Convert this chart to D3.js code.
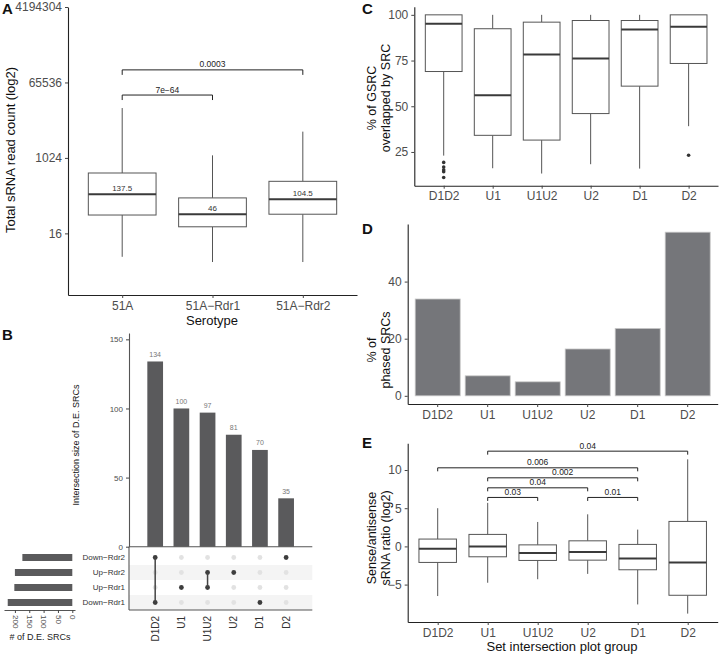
<!DOCTYPE html>
<html><head><meta charset="utf-8">
<script src="https://cdn.jsdelivr.net/npm/d3@7"></script>
<style>body{margin:0;background:#fff}</style>
</head><body><svg id="c" width="720" height="658"></svg>
<script>
// ---------------- DATA ----------------
// Panel A
const serotypes = ["51A", "51A\u2212Rdr1", "51A\u2212Rdr2"];
const aMin = [4.4, 3.3, 3.3];
const aQ1 = [44, 23, 46];
const aMed = [137.5, 46, 104.5];
const aQ3 = [446, 113, 282];
const aMax = [16000, 1180, 4360];
const aMedLabels = ["137.5", "46", "104.5"];
const aTicks = [16, 1024, 65536, 4194304];
const aBrFrom = ["51A", "51A"];
const aBrTo = ["51A\u2212Rdr1", "51A\u2212Rdr2"];
const aBrY = [32768, 131072];
const aBrLabel = ["7e\u221264", "0.0003"];

// Panel B (UpSet)
const intersections = ["D1D2", "U1", "U1U2", "U2", "D1", "D2"];
const interSizes = [134, 100, 97, 81, 70, 35];
const sets = ["Down\u2212Rdr2", "Up\u2212Rdr2", "Up\u2212Rdr1", "Down\u2212Rdr1"];
const setSizes = [174, 200, 202, 225];
const interMembers = [
  ["Down\u2212Rdr2", "Down\u2212Rdr1"],
  ["Up\u2212Rdr1"],
  ["Up\u2212Rdr2", "Up\u2212Rdr1"],
  ["Up\u2212Rdr2"],
  ["Down\u2212Rdr1"],
  ["Down\u2212Rdr2"]
];
const bTicks = [0, 50, 100, 150];
const setTicks = [0, 50, 100, 150, 200];

// Panel C
const groups = ["D1D2", "U1", "U1U2", "U2", "D1", "D2"];
const cMin = [23, 16.1, 13.2, 18.3, 15.9, 39.1];
const cQ1 = [69, 34.1, 31.5, 46, 61, 73.4];
const cMed = [95.1, 56, 78.3, 76.1, 92, 93.5];
const cQ3 = [100, 92.4, 96, 96.9, 96.9, 100];
const cMax = [100, 100, 100, 100, 100, 100];
const cOutGroup = ["D1D2", "D1D2", "D1D2", "D1D2", "D1D2", "D2"];
const cOutVal = [19.3, 16.8, 15.2, 14.2, 11.0, 23.2];
const cTicks = [25, 50, 75, 100];

// Panel D
const dPhased = [33.9, 7.0, 4.9, 16.4, 23.6, 57.3];
const dTicks = [0, 20, 40];

// Panel E
const eMin = [-6.5, -4.76, -4.3, -3.6, -7.6, -8.8];
const eQ1 = [-2.1, -1.36, -1.84, -1.8, -3.06, -6.4];
const eMed = [-0.3, 0, -0.88, -0.75, -1.57, -2.1];
const eQ3 = [0.96, 1.57, 0.2, 0.73, 0.26, 3.27];
const eMax = [5.0, 5.7, 3.2, 4.2, 2.2, 11.4];
const eTicks = [-5, 0, 5, 10];
const eBrFrom = ["U1", "D1D2", "U1", "U1", "U1", "U2"];
const eBrTo = ["D2", "D1", "D1", "U2", "U1U2", "D1"];
const eBrY = [12.47, 10.29, 8.98, 7.67, 6.41, 6.41];
const eBrLabel = ["0.04", "0.006", "0.002", "0.04", "0.03", "0.01"];

// ---------------- DRAW ----------------
const FONT = "'Liberation Sans', Arial, Helvetica, sans-serif";
const AXC = "#222", TICKC = "#4d4d4d", BOXC = "#555", MEDC = "#3a3a3a";
const svg = d3.select("#c").attr("font-family", FONT);
svg.append("rect").attr("width", 720).attr("height", 658).attr("fill", "#fff");

function styleAxis(g, fs) {
  g.attr("font-family", FONT).attr("font-size", fs);
  g.select(".domain").attr("stroke", AXC).attr("stroke-width", 1.1);
  g.selectAll(".tick line").attr("stroke", "#444");
  g.selectAll(".tick text").attr("fill", TICKC);
}

function drawBoxes(g, x, y, cats, mn, q1, md, q3, mx, bw) {
  const d = cats.map((c, i) => ({c, mn: mn[i], q1: q1[i], md: md[i], q3: q3[i], mx: mx[i]}));
  const b = g.selectAll(null).data(d).enter().append("g");
  b.append("line").attr("x1", e => x(e.c)).attr("x2", e => x(e.c))
    .attr("y1", e => y(e.q3)).attr("y2", e => y(e.mx)).attr("stroke", BOXC).attr("stroke-width", 1);
  b.append("line").attr("x1", e => x(e.c)).attr("x2", e => x(e.c))
    .attr("y1", e => y(e.q1)).attr("y2", e => y(e.mn)).attr("stroke", BOXC).attr("stroke-width", 1);
  b.append("rect").attr("x", e => x(e.c) - bw / 2).attr("width", bw)
    .attr("y", e => y(e.q3)).attr("height", e => y(e.q1) - y(e.q3))
    .attr("fill", "#fff").attr("stroke", BOXC).attr("stroke-width", 1);
  b.append("line").attr("x1", e => x(e.c) - bw / 2).attr("x2", e => x(e.c) + bw / 2)
    .attr("y1", e => y(e.md)).attr("y2", e => y(e.md)).attr("stroke", MEDC).attr("stroke-width", 2);
}

function drawBrackets(g, x, y, from, to, ys, labels, drop, fs) {
  const d = from.map((f, i) => ({f, t: to[i], y: ys[i], l: labels[i]}));
  const b = g.selectAll(null).data(d).enter().append("g");
  b.append("path").attr("fill", "none").attr("stroke", "#222").attr("stroke-width", 1)
    .attr("d", e => `M${x(e.f)},${y(e.y) + drop}V${y(e.y)}H${x(e.t)}V${y(e.y) + drop}`);
  b.append("text").attr("x", e => (x(e.f) + x(e.t)) / 2).attr("y", e => y(e.y) - 2.5)
    .attr("text-anchor", "middle").attr("font-size", fs).attr("fill", "#222").text(e => e.l);
}

function panelLabel(t, x, y) {
  svg.append("text").attr("x", x).attr("y", y).attr("font-size", 15).attr("font-weight", "bold")
    .attr("fill", "#111").text(t);
}

function rotTitle(lines, x, cy, fs) {
  const t = svg.append("text").attr("transform", `translate(${x},${cy}) rotate(-90)`)
    .attr("text-anchor", "middle").attr("font-size", fs).attr("fill", "#111");
  lines.forEach((l, i) => t.append("tspan").attr("x", 0).attr("dy", i === 0 ? 0 : "1.1em").text(l));
}

// ===== Panel A =====
{
  const x = d3.scalePoint().domain(serotypes).range([68, 357]).padding(0.6);
  const y = d3.scaleLog().base(2).domain([Math.pow(2, -0.9), Math.pow(2, 22)]).range([295, 7]);
  const g = svg.append("g");
  const bw = x.step() * 0.75;
  drawBoxes(g, x, y, serotypes, aMin, aQ1, aMed, aQ3, aMax, bw);
  g.selectAll(null).data(serotypes).enter().append("text")
    .attr("x", d => x(d)).attr("y", (d, i) => y(aMed[i]) - 3.5)
    .attr("text-anchor", "middle").attr("font-size", 8).attr("fill", "#333")
    .text((d, i) => aMedLabels[i]);
  drawBrackets(g, x, y, aBrFrom, aBrTo, aBrY, aBrLabel, 5, 8.5);
  const ya = svg.append("g").attr("transform", "translate(68,0)")
    .call(d3.axisLeft(y).tickValues(aTicks).tickFormat(d3.format("d")).tickSize(3).tickSizeOuter(0));
  styleAxis(ya, 12);
  const xa = svg.append("g").attr("transform", "translate(0,295)")
    .call(d3.axisBottom(x).tickSize(3).tickSizeOuter(0));
  styleAxis(xa, 12);
  rotTitle(["Total sRNA read count (log2)"], 15, 150, 13);
  svg.append("text").attr("x", 212).attr("y", 325).attr("text-anchor", "middle")
    .attr("font-size", 13).attr("fill", "#111").text("Serotype");
  panelLabel("A", 2, 14);
}

// ===== Panel B =====
{
  const x = d3.scalePoint().domain(intersections).range([129, 312.3]).padding(1);
  const y = d3.scaleLinear().domain([0, 154.6]).range([546.7, 333]);
  const rows = d3.scaleBand().domain(sets).range([550, 610]);
  const sx = d3.scaleLinear().domain([-9.4, 238]).range([75, 4]);
  const g = svg.append("g");
  const bw = x.step() * 0.6;
  // shading
  g.selectAll(null).data(sets.filter((s, i) => i % 2 === 1)).enter().append("rect")
    .attr("x", 129).attr("width", 312.3 - 129).attr("y", d => rows(d)).attr("height", rows.bandwidth())
    .attr("fill", "#f4f4f4");
  // bars
  g.selectAll(null).data(intersections).enter().append("rect")
    .attr("x", d => x(d) - bw / 2).attr("width", bw)
    .attr("y", (d, i) => y(interSizes[i])).attr("height", (d, i) => y(0) - y(interSizes[i]))
    .attr("fill", "#5a5a5c");
  g.selectAll(null).data(intersections).enter().append("text")
    .attr("x", d => x(d)).attr("y", (d, i) => y(interSizes[i]) - 4.5)
    .attr("text-anchor", "middle").attr("font-size", 7).attr("fill", "#777")
    .text((d, i) => interSizes[i]);
  // dots
  const cells = [];
  intersections.forEach((it, i) => sets.forEach(s => cells.push({it, s, on: interMembers[i].includes(s)})));
  g.selectAll(null).data(cells).enter().append("circle")
    .attr("cx", d => x(d.it)).attr("cy", d => rows(d.s) + rows.bandwidth() / 2).attr("r", 2.4)
    .attr("fill", d => d.on ? "#3d3d3d" : "#e2e2e2");
  // connecting lines
  intersections.forEach((it, i) => {
    const m = interMembers[i];
    if (m.length > 1) {
      const ys = m.map(s => rows(s) + rows.bandwidth() / 2);
      g.append("line").attr("x1", x(it)).attr("x2", x(it))
        .attr("y1", d3.min(ys)).attr("y2", d3.max(ys)).attr("stroke", "#444").attr("stroke-width", 1.5);
    }
  });
  // frame lines
  g.append("line").attr("x1", 129).attr("x2", 312.3).attr("y1", 546.7).attr("y2", 546.7).attr("stroke", "#555").attr("stroke-width", 1.1);
  g.append("line").attr("x1", 129).attr("x2", 129).attr("y1", 546.7).attr("y2", 610).attr("stroke", "#555").attr("stroke-width", 1.1);
  g.append("line").attr("x1", 129).attr("x2", 312.3).attr("y1", 610).attr("y2", 610).attr("stroke", "#555").attr("stroke-width", 1.1);
  const ya = svg.append("g").attr("transform", "translate(129,0)")
    .call(d3.axisLeft(y).tickValues(bTicks).tickSize(3).tickSizeOuter(0));
  styleAxis(ya, 8);
  ya.select(".domain").attr("stroke", "#555");
  // intersection labels (rotated)
  g.selectAll(null).data(intersections).enter().append("text")
    .attr("transform", d => `translate(${x(d)},616) rotate(-90)`)
    .attr("text-anchor", "end").attr("dy", "0.35em").attr("font-size", 10).attr("fill", "#333")
    .text(d => d);
  // set labels
  g.selectAll(null).data(sets).enter().append("text")
    .attr("x", 125).attr("y", d => rows(d) + rows.bandwidth() / 2).attr("dy", "0.35em")
    .attr("text-anchor", "end").attr("font-size", 8).attr("fill", "#333").text(d => d);
  // set size bars
  g.selectAll(null).data(sets).enter().append("rect")
    .attr("x", (d, i) => sx(setSizes[i])).attr("width", (d, i) => sx(0) - sx(setSizes[i]))
    .attr("y", d => rows(d) + rows.bandwidth() / 2 - 3.5).attr("height", 7).attr("fill", "#5a5a5c");
  const sa = svg.append("g").attr("transform", "translate(0,610)")
    .call(d3.axisBottom(sx).tickValues(setTicks).tickSize(3).tickSizeOuter(0));
  styleAxis(sa, 8);
  sa.select(".domain").attr("stroke", "#555");
  sa.selectAll(".tick text").attr("transform", "rotate(90)").attr("text-anchor", "start")
    .attr("x", 5).attr("y", 0).attr("dy", "0.35em");
  svg.append("text").attr("x", 40).attr("y", 640).attr("text-anchor", "middle")
    .attr("font-size", 9).attr("fill", "#222").text("# of D.E. SRCs");
  rotTitle(["Intersection size of D.E. SRCs"], 79, 445, 9);
  panelLabel("B", 2, 340);
}

// ===== Panel C =====
{
  const x = d3.scalePoint().domain(groups).range([414.3, 718]).padding(0.6);
  const y = d3.scaleLinear().domain([6.55, 104.45]).range([185.7, 6.7]);
  const g = svg.append("g");
  drawBoxes(g, x, y, groups, cMin, cQ1, cMed, cQ3, cMax, x.step() * 0.75);
  g.selectAll(null).data(cOutVal).enter().append("circle")
    .attr("cx", (d, i) => x(cOutGroup[i])).attr("cy", d => y(d)).attr("r", 1.8).attr("fill", "#333");
  const ya = svg.append("g").attr("transform", "translate(414.3,0)")
    .call(d3.axisLeft(y).tickValues(cTicks).tickSize(3).tickSizeOuter(0));
  styleAxis(ya, 12);
  const xa = svg.append("g").attr("transform", "translate(0,185.7)")
    .call(d3.axisBottom(x).tickSize(3).tickSizeOuter(0));
  styleAxis(xa, 12);
  rotTitle(["% of GSRC", "overlapped by SRC"], 376, 98, 12.5);
  panelLabel("C", 362, 14);
}

// ===== Panel D =====
{
  const x = d3.scaleBand().domain(groups).range([407.7, 717.7]).paddingInner(0.1).paddingOuter(0.15);
  const y = d3.scaleLinear().domain([-2.865, 60.165]).range([404, 224]);
  const g = svg.append("g");
  g.selectAll(null).data(groups).enter().append("rect")
    .attr("x", d => x(d)).attr("width", x.bandwidth())
    .attr("y", (d, i) => y(dPhased[i])).attr("height", (d, i) => y(0) - y(dPhased[i]))
    .attr("fill", "#75767a").attr("stroke", "#c8c8c8").attr("stroke-width", 0.8);
  const ya = svg.append("g").attr("transform", "translate(407.7,0)")
    .call(d3.axisLeft(y).tickValues(dTicks).tickSize(3).tickSizeOuter(0));
  styleAxis(ya, 12);
  const xa = svg.append("g").attr("transform", "translate(0,404)")
    .call(d3.axisBottom(x).tickSize(3).tickSizeOuter(0));
  styleAxis(xa, 12);
  rotTitle(["% of", "phased SRCs"], 376, 350, 12.5);
  panelLabel("D", 362, 234);
}

// ===== Panel E =====
{
  const x = d3.scalePoint().domain(groups).range([407.7, 717.7]).padding(0.6);
  const y = d3.scaleLinear().domain([-9.9, 13.5]).range([622, 443.3]);
  const g = svg.append("g");
  drawBoxes(g, x, y, groups, eMin, eQ1, eMed, eQ3, eMax, x.step() * 0.75);
  drawBrackets(g, x, y, eBrFrom, eBrTo, eBrY, eBrLabel, 3.5, 8.5);
  const ya = svg.append("g").attr("transform", "translate(407.7,0)")
    .call(d3.axisLeft(y).tickValues(eTicks).tickSize(3).tickSizeOuter(0));
  styleAxis(ya, 12);
  const xa = svg.append("g").attr("transform", "translate(0,622)")
    .call(d3.axisBottom(x).tickSize(3).tickSizeOuter(0));
  styleAxis(xa, 12);
  rotTitle(["Sense/antisense", "sRNA ratio (log2)"], 376, 538, 12.5);
  svg.append("text").attr("x", 562).attr("y", 651).attr("text-anchor", "middle")
    .attr("font-size", 13).attr("fill", "#111").text("Set intersection plot group");
  panelLabel("E", 362, 448);
}
</script></body></html>
